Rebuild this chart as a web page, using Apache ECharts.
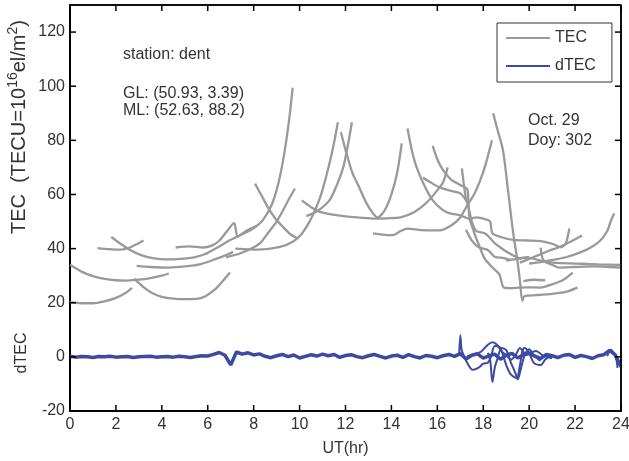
<!DOCTYPE html>
<html>
<head>
<meta charset="utf-8">
<script src="https://cdn.jsdelivr.net/npm/echarts@6/dist/echarts.min.js"></script>
<style>
html,body{margin:0;padding:0;background:#fff}
#main{width:629px;height:461px}
</style>
</head>
<body>
<div id="main"></div>
<script>
// TEC arcs, one per satellite pass: [UT hour, TEC]
const tecA = [[0,34],[0.5,31.5],[1,29.8],[1.5,28.8],[2,28.3],[2.5,28.2],[3,28.5],[3.5,29.1],[4,30],[4.3,30.8]]
const tecB = [[0,20.2],[0.5,19.8],[1,19.8],[1.5,20.5],[2,21.8],[2.4,23.5],[2.7,25.5]]
const tecC = [[2.8,28.8],[3.2,25.8],[3.6,23.5],[4,22.2],[4.5,21.5],[5,21.3],[5.5,21.4],[5.9,22.4],[6.3,24.8],[6.6,27.5],[6.97,31.2]]
const tecD = [[1.8,44.3],[2.2,41.8],[2.6,39.6],[3.1,37.6],[3.6,36.5],[4.2,36],[4.8,36.2],[5.4,36.8],[5.9,38],[6.45,40.5],[6.9,42.8],[7.5,45.3],[8,47.5],[8.4,50.5],[8.8,56.5],[9.1,65],[9.35,76],[9.55,88],[9.7,99.5]]
const tecE = [[1.2,40.2],[1.7,39.8],[2.2,39.6],[2.6,40.4],[2.9,41.6],[3.2,43]]
const tecF = [[2.9,33.6],[3.5,33.2],[4.3,33],[5,33.4],[5.7,34.3],[6.3,36],[6.8,37.6],[7.1,38.8]]
const tecG = [[4.6,40.4],[5.2,40.8],[5.8,40.4],[6.2,41.2],[6.5,42.9],[6.8,46],[7.15,49.5],[7.3,44.5],[7.7,46.7],[8.1,48.2]]
const tecH = [[6.8,36.8],[7.4,38.2],[7.9,40],[8.3,42.2],[8.6,45.5],[9,50],[9.3,54.5],[9.55,58.5],[9.8,62.2]]
const tecX = [[8.06,64],[8.35,59.5],[8.62,55.2],[8.95,51],[9.3,47.8],[9.6,45.3],[9.9,43.8]]
const tecP1 = [[7.2,40],[8.2,39.6],[9.15,40.6],[9.7,42.5],[10.1,45.5],[10.5,51],[10.9,59],[11.2,68],[11.45,77],[11.67,86.7]]
const tecP2 = [[10.3,52],[10.8,54],[11.3,57.8],[11.6,63],[11.9,70],[12.1,78],[12.28,86.7]]
const tecU = [[11.8,83],[12,76.5],[12.3,68],[12.6,62.6],[12.9,57],[13.2,53],[13.4,51.5],[13.7,54],[14,60],[14.25,68],[14.45,78.9]]
const tecV = [[10.1,57.8],[10.5,55.3],[11,53.3],[11.76,52.2],[12.5,51.5],[13.2,51.1],[13.8,51.2],[14.4,51.5],[15,53.5],[15.5,56.7],[15.9,60.5],[16.25,64.5],[16.45,70]]
const tecW = [[14.7,84.4],[14.9,76],[15.1,70],[15.45,63],[15.8,57.8],[16.2,54.5],[16.55,53],[17,52.3],[17.4,51],[17.7,51.5],[18.1,50.8],[18.3,50],[18.4,45.6],[18.8,44.2],[19.3,43.2],[19.9,43],[20.5,42.8],[21,41.8],[21.4,40.5],[21.6,42],[21.75,47.4]]
const tecY = [[15.8,78],[16,73],[16.25,69],[16.6,65.5],[17,63.5],[17.3,62],[17.35,57.8],[17.4,51.5],[17.6,46],[17.85,40.5],[18.05,36.5],[18.4,33],[18.7,30.5],[18.9,25.6],[19.3,25.4],[19.9,25.7],[20.5,25.6],[21,26.8],[21.5,28.5],[21.9,31.1]]
const tecZ = [[15.37,66.3],[15.7,64.5],[16.1,62.6],[16.6,61.3],[17,60.4],[17.3,57],[17.5,50],[17.7,46.5],[18.1,45.5],[18.5,42],[18.9,39.5],[19.3,37.5],[19.6,36.5],[20,36.8]]
const tecQ = [[13.2,45.6],[13.6,45.2],[14.07,45],[14.4,46.5],[14.7,47.4],[15.3,46.8],[16.1,46.7],[16.6,48.5],[17,51.5],[17.3,56],[17.6,60],[17.86,65],[18.1,71],[18.38,80]]
const tecS = [[18.43,90],[18.65,83],[18.86,76.3],[19.08,61.5],[19.25,49.3],[19.35,43],[19.47,36.7],[19.6,28],[19.7,20.7],[19.8,22.5],[20.3,22.8],[21,23.3],[21.6,24],[22.1,25.6]]
const tecT = [[17.07,69.6],[17.15,64],[17.25,58]]
const tecK = [[17.25,47],[17.5,43],[17.8,40.5],[18.2,39.5],[18.5,37],[18.9,36.5],[19.2,35.8]]
const tecJ = [[19.75,28],[20.2,28.5],[20.7,28.3]]
const tecR1 = [[19,35.6],[19.5,36.2],[19.9,36.7],[20.5,35.6],[21,34],[21.3,33],[22,33.2],[22.8,33.4],[23.5,33.2],[24,33]]
const tecR2 = [[20,34.5],[20.5,35],[21,35.8],[21.6,36.8],[22.2,38.5],[22.7,40.5],[23.1,43],[23.4,46.5],[23.55,50],[23.7,53]]
const tecR3 = [[19.6,34.8],[20,36.2],[20.4,37.6],[20.9,39.3],[21.3,40.5],[21.8,42.5],[22.3,44.8]]
const tecR4 = [[20.5,40.4],[20.6,36],[20.8,35],[21.5,34.6],[22.3,34.4],[23,34.2],[24,34]]

// dTEC: quiet baseline plus the disturbed passes around 17-21 UT
const dtecBase = [[0,0.2],[0.25,-0.1],[0.5,0.1],[0.75,0],[1,-0.2],[1.25,0.1],[1.5,0],[1.75,0.2],[2,-0.1],[2.25,0],[2.5,0.1],[2.75,-0.2],[3,0],[3.25,0.1],[3.5,0.2],[3.75,-0.1],[4,0],[4.25,0.1],[4.5,-0.1],[4.75,0.2],[5,0],[5.25,-0.2],[5.5,0.1],
  [5.75,0.4],[6,0.3],[6.25,0.9],[6.5,1.6],[6.75,0.6],[7,-3],[7.25,1.8],[7.5,1],[7.75,1.5],[8,0.7],[8.25,1.1],[8.5,0.2],[8.75,-0.3],[9,0.4],[9.25,0.9],[9.5,0.1],[9.75,0.7],
  [10,-0.4],[10.25,0.2],[10.5,0.8],[10.75,0.3],[11,1],[11.25,0.4],[11.5,0.9],[11.75,-0.2],[12,0.5],[12.25,0.8],[12.5,0.1],[12.75,-0.3],[13,0.4],[13.25,0.9],[13.5,0.2],[13.75,-0.4],
  [14,0.3],[14.25,0.6],[14.5,-0.2],[14.75,0.8],[15,0.1],[15.25,-0.4],[15.5,0.5],[15.75,0.2],[16,-0.3],[16.25,0.4],[16.5,0.9],[16.75,0.2],[17,1.2],[17.25,-0.8],[17.5,0.6],[17.75,1.1],
  [18,-0.5],[18.25,0.4],[18.5,1],[18.75,-0.9],[19,0.6],[19.25,1.3],[19.5,-0.4],[19.75,0.8],[20,1.2],[20.25,0.3],[20.5,-0.6],[20.75,0.9],[21,0.4],[21.25,-0.3],[21.5,0.6],[21.75,0.9],
  [22,-0.2],[22.25,0.5],[22.5,0.1],[22.75,-0.6],[23,0.4],[23.25,0.8],[23.5,2.4],[23.75,0.7],[24,-3.6]]
const dtec1 = [[16.95,0.5],[17,8],[17.05,3],[17.1,1.5],[17.3,-2.2],[17.55,-4.8],[17.8,-4],[18,-2.5],[18.2,-2.2],[18.35,0.5],[18.5,4],[18.7,3.7],[18.85,1],[19,-3],[19.2,-6.5],[19.45,-7.8],[19.6,-3],[19.7,2],[19.8,3.3],[20,1.5],[20.2,-2.2],[20.5,-3],[20.7,-1],[20.9,0.3]]
const dtec2 = [[17.3,0.2],[17.6,1],[17.9,1.9],[18.2,4.5],[18.4,5.4],[18.6,4.5],[18.8,2],[19,0.7],[19.2,-1],[19.4,0.5],[19.6,3.3],[19.8,1.5],[20,1.5],[20.3,2.2],[20.6,0.5],[21,-0.5]]
const dtec3 = [[18.2,1.5],[18.3,-1],[18.4,-9.3],[18.5,-4],[18.6,-1.2],[18.8,3.3],[19,2.5],[19.2,-2],[19.4,-6],[19.5,-8.3],[19.65,-4],[19.8,0.5],[20,2.8],[20.2,0.5],[20.5,-1.5]]
const dtec4 = [[23.4,0.3],[23.55,2.6],[23.7,1.2],[23.8,-1],[23.85,-4.1]]

// tick values of the box
const xTicks = [0,2,4,6,8,10,12,14,16,18,20,22,24]
const yTicks = [-20,0,20,40,60,80,100,120]
const xMin = 0, xMax = 24, yMin = -20, yMax = 130

const tecArcs = [tecA,tecB,tecC,tecD,tecE,tecF,tecG,tecH,tecX,tecP1,tecP2,tecU,tecV,tecW,tecY,tecZ,tecQ,tecS,tecT,tecK,tecJ,tecR1,tecR2,tecR3,tecR4]
const dtecArcs = [dtec1,dtec2,dtec3,dtec4]

const gray = '#999999'
const blue = '#3c4aa2'
const font = 'Liberation Sans, Arial, sans-serif'
const txt = '#333'
const tickLen = 6

let series = []
tecArcs.forEach(function(arc){
  series.push({name:'TEC',type:'line',data:arc,symbol:'none',smooth:0.25,silent:true,
    lineStyle:{color:gray,width:2.3},itemStyle:{color:gray}})
})
series.push({name:'dTEC',type:'line',data:dtecBase,symbol:'none',silent:true,
  lineStyle:{color:blue,width:3.5},itemStyle:{color:blue}})
dtecArcs.forEach(function(arc){
  series.push({name:'dTEC',type:'line',data:arc,symbol:'none',smooth:0.3,silent:true,
    lineStyle:{color:blue,width:2},itemStyle:{color:blue}})
})

function seg(x1,y1,x2,y2,w){
  return {type:'line',shape:{x1:x1,y1:y1,x2:x2,y2:y2},style:{stroke:'#000',lineWidth:w||1.5}}
}
// inward ticks on bottom and top, placed through the axis scale
series.push({type:'custom',silent:true,clip:false,z:10,
  data:xTicks.map(function(v){ return [v,yMin] }),
  renderItem:function(params,api){
    const b = api.coord([api.value(0),yMin]), t = api.coord([api.value(0),yMax])
    return {type:'group',children:[seg(b[0],b[1],b[0],b[1]-tickLen),seg(t[0],t[1],t[0],t[1]+tickLen)]}
  }})
// inward ticks on left and right
series.push({type:'custom',silent:true,clip:false,z:10,
  data:yTicks.map(function(v){ return [xMin,v] }),
  renderItem:function(params,api){
    const l = api.coord([xMin,api.value(1)]), r = api.coord([xMax,api.value(1)])
    return {type:'group',children:[seg(l[0],l[1],l[0]+tickLen,l[1]),seg(r[0],r[1],r[0]-tickLen,r[1])]}
  }})
// right and top edges of the frame
series.push({type:'custom',silent:true,clip:false,z:10,
  data:[[xMax,yMin]],
  renderItem:function(params,api){
    const a = api.coord([xMax,yMin]), b = api.coord([xMax,yMax]), c = api.coord([xMin,yMax])
    return {type:'group',children:[seg(a[0],a[1],b[0],b[1]),seg(c[0],c[1],b[0],b[1])]}
  }})

function label(text,x,y){
  return {type:'text',x:x,y:y,style:{text:text,fill:txt,font:'16px '+font,
    align:'left',verticalAlign:'middle',textAlign:'left',textVerticalAlign:'middle'}}
}

let chart = echarts.init(document.getElementById('main'))
chart.setOption({
  animation:false,
  backgroundColor:'#fff',
  grid:{left:70,right:8,top:5,bottom:50,containLabel:false,outerBoundsMode:'none',
    show:true,borderColor:'#000',borderWidth:1.5},
  legend:{
    data:[{name:'TEC',icon:'rect'},{name:'dTEC',icon:'rect'}],
    orient:'vertical',left:497,top:23,itemWidth:44,itemHeight:2,itemGap:12,
    padding:[7,16,8,9],borderColor:'#333',borderWidth:1,backgroundColor:'#fff',
    textStyle:{fontSize:16,color:txt,fontFamily:font,lineHeight:16},
    selectedMode:false
  },
  xAxis:{
    type:'value',min:xMin,max:xMax,interval:2,
    name:'UT(hr)',nameLocation:'middle',nameGap:30,
    nameTextStyle:{fontSize:16,color:txt,fontFamily:font},
    axisLine:{onZero:false,lineStyle:{color:'#000',width:2}},
    axisTick:{show:false},
    axisLabel:{fontSize:16,color:txt,fontFamily:font,margin:6},
    splitLine:{show:false}
  },
  yAxis:{
    type:'value',min:yMin,max:yMax,interval:20,
    axisLine:{show:true,onZero:false,lineStyle:{color:'#000',width:2}},
    axisTick:{show:false},
    axisLabel:{fontSize:16,color:txt,fontFamily:font,margin:5,showMaxLabel:false},
    splitLine:{show:false}
  },
  graphic:[
    label('station: dent',123,55),
    label('GL: (50.93, 3.39)',123,94),
    label('ML: (52.63, 88.2)',123,111),
    label('Oct. 29',528,121),
    label('Doy: 302',528,141),
    {type:'text',x:19,y:127,rotation:Math.PI/2,
      style:{text:'{a|TEC  (TECU=10}{s|16}{a|el/m}{s|2}{a|)}',fill:txt,
        align:'center',verticalAlign:'middle',textAlign:'center',textVerticalAlign:'middle',
        font:'20px '+font,
        rich:{a:{fontSize:20,fontFamily:font,fill:txt,lineHeight:25},
              s:{fontSize:14,fontFamily:font,fill:txt,verticalAlign:'top'}}}},
    {type:'text',x:22,y:353,rotation:Math.PI/2,
      style:{text:'dTEC',fill:txt,font:'16px '+font,
        align:'center',verticalAlign:'middle',textAlign:'center',textVerticalAlign:'middle'}}
  ],
  series:series
})
</script>
</body>
</html>
